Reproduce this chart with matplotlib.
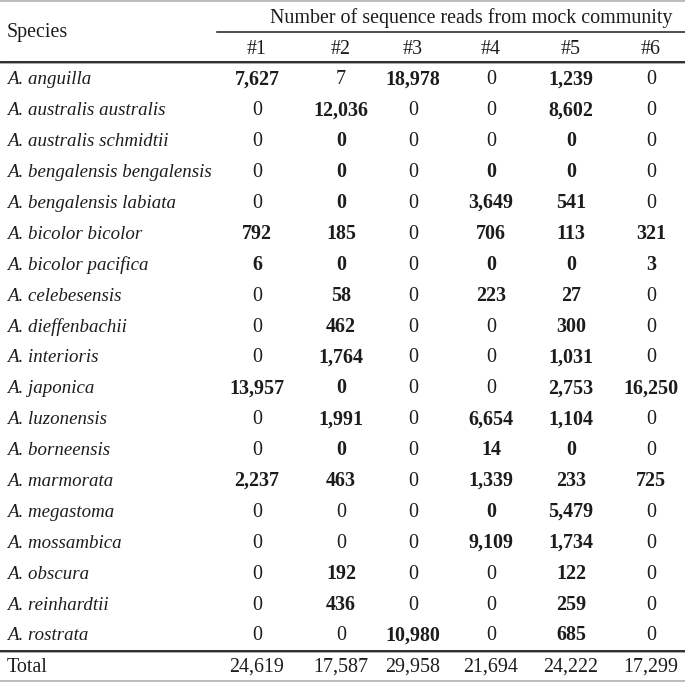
import matplotlib
matplotlib.use("Agg")
import matplotlib.pyplot as plt

SPECIES = [
    "A. anguilla", "A. australis australis", "A. australis schmidtii",
    "A. bengalensis bengalensis", "A. bengalensis labiata", "A. bicolor bicolor",
    "A. bicolor pacifica", "A. celebesensis", "A. dieffenbachii", "A. interioris",
    "A. japonica", "A. luzonensis", "A. borneensis", "A. marmorata",
    "A. megastoma", "A. mossambica", "A. obscura", "A. reinhardtii", "A. rostrata",
]
COMMUNITIES = ["#1", "#2", "#3", "#4", "#5", "#6"]

M1 = [7627, 0, 0, 0, 0, 792, 6, 0, 0, 0, 13957, 0, 0, 2237, 0, 0, 0, 0, 0]
M2 = [7, 12036, 0, 0, 0, 185, 0, 58, 462, 1764, 0, 1991, 0, 463, 0, 0, 192, 436, 0]
M3 = [18978, 0, 0, 0, 0, 0, 0, 0, 0, 0, 0, 0, 0, 0, 0, 0, 0, 0, 10980]
M4 = [0, 0, 0, 0, 3649, 706, 0, 223, 0, 0, 0, 6654, 14, 1339, 0, 9109, 0, 0, 0]
M5 = [1239, 8602, 0, 0, 541, 113, 0, 27, 300, 1031, 2753, 1104, 0, 233, 5479, 1734, 122, 259, 685]
M6 = [0, 0, 0, 0, 0, 321, 3, 0, 0, 0, 16250, 0, 0, 725, 0, 0, 0, 0, 0]
TOTAL = [24619, 17587, 29958, 21694, 24222, 17299]

# species expected in each mock community (printed bold)
IN_MOCK = [
    "101010", "010010", "010010", "010110", "010110", "110111", "110111",
    "010110", "010010", "010010", "110011", "010110", "010110", "110111",
    "000110", "000110", "010010", "010010", "001010",
]

INK = "#1c1c1c"
FONT = "Liberation Serif"
FS = 14.4
FS_SP = 13.6   # italic species names are set a touch narrower

COL_X = [257, 341, 413, 491, 571, 651]
ROW0, ROWN = 78, 634
BASE = 6.5     # row centre -> text baseline, px


def main():
    fig = plt.figure(figsize=(6.85, 6.82), dpi=100)
    ax = fig.add_axes([0, 0, 1, 1])
    ax.set_xlim(0, 685)
    ax.set_ylim(682, 0)
    ax.axis("off")

    kw = dict(family=FONT, color=INK, va="baseline")

    # rules
    ax.plot([0, 685], [1, 1], color="#b0b0b0", lw=1.2)
    ax.plot([217, 685], [31.5, 31.5], color=INK, lw=1.1)
    ax.plot([0, 685], [61.5, 61.5], color=INK, lw=1.3)
    ax.plot([0, 685], [63.3, 63.3], color="#9a9a9a", lw=0.6)
    ax.plot([0, 685], [650.5, 650.5], color=INK, lw=1.3)
    ax.plot([0, 685], [652.3, 652.3], color="#9a9a9a", lw=0.6)
    ax.plot([0, 685], [681, 681], color="#b0b0b0", lw=1.2)

    # header
    ax.text(7, 30 + BASE, "Species", ha="left", fontsize=FS, **kw)
    ax.text(471, 16 + BASE, "Number of sequence reads from mock community",
            ha="center", fontsize=FS, **kw)
    for x, c in zip(COL_X, COMMUNITIES):
        ax.text(x, 47 + BASE, c, ha="center", fontsize=FS, **kw)

    cols = [M1, M2, M3, M4, M5, M6]
    n = len(SPECIES)
    dy = (ROWN - ROW0) / (n - 1)
    for i, sp in enumerate(SPECIES):
        y = ROW0 + i * dy + BASE
        ax.text(7, y, sp, ha="left", style="italic", fontsize=FS_SP, **kw)
        for j, x in enumerate(COL_X):
            bold = IN_MOCK[i][j] == "1"
            ax.text(x, y, f"{cols[j][i]:,}", ha="center", fontsize=FS,
                    weight="bold" if bold else "normal", **kw)

    y = 665 + BASE
    ax.text(7, y, "Total", ha="left", fontsize=FS, **kw)
    for x, t in zip(COL_X, TOTAL):
        ax.text(x, y, f"{t:,}", ha="center", fontsize=FS, **kw)

    fig.savefig("out.png", dpi=100)


if __name__ == "__main__":
    main()
